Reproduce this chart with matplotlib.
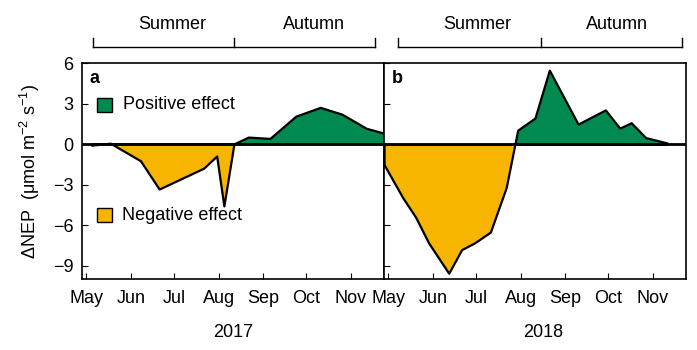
import numpy as np
import pandas as pd
import matplotlib
matplotlib.use("Agg")
import matplotlib.pyplot as plt
import matplotlib.dates as mdates
import matplotlib.transforms as mtransforms
from matplotlib.patches import Rectangle

plt.rcParams["font.family"] = ["Liberation Sans", "DejaVu Sans"]
plt.rcParams["mathtext.fontset"] = "custom"
plt.rcParams["mathtext.rm"] = "Liberation Sans"
plt.rcParams["mathtext.default"] = "regular"

# delta NEP
dates_2017 = ["2017-05-05", "2017-05-18", "2017-06-08", "2017-06-21", "2017-07-22",
              "2017-07-31", "2017-08-05", "2017-08-12", "2017-08-22", "2017-09-06",
              "2017-09-24", "2017-10-11", "2017-10-26", "2017-11-12", "2017-11-24"]
nep_2017 = [-0.1, 0.05, -1.25, -3.35, -1.8, -0.9, -4.6, 0.0, 0.5, 0.4,
            2.05, 2.7, 2.2, 1.15, 0.8]

dates_2018 = ["2018-04-28", "2018-05-11", "2018-05-20", "2018-05-29", "2018-06-12",
              "2018-06-21", "2018-06-30", "2018-07-11", "2018-07-22", "2018-07-30",
              "2018-08-11", "2018-08-21", "2018-09-10", "2018-09-29", "2018-10-09",
              "2018-10-17", "2018-10-27", "2018-11-11"]
nep_2018 = [-1.5, -3.95, -5.4, -7.3, -9.55, -7.8, -7.3, -6.5, -3.2, 1.05,
            1.95, 5.5, 1.5, 2.55, 1.2, 1.6, 0.5, 0.1]

years = [2017, 2018]
panel_labels = ["a", "b"]
# season brackets: start, summer/autumn split, end
brackets = {2017: ["2017-05-06", "2017-08-12", "2017-11-18"],
            2018: ["2018-05-08", "2018-08-15", "2018-11-21"]}
season_text = {2017: ["2017-06-30", "2017-10-06"],
               2018: ["2018-07-02", "2018-10-07"]}
seasons = ["Summer", "Autumn"]

green = "#008A50"
orange = "#F7B500"
fs = 13

fig = plt.figure(figsize=(6.97, 3.5), dpi=100)
ax_a = fig.add_axes([0.1176, 0.202, 0.4334, 0.617])
ax_b = fig.add_axes([0.551, 0.202, 0.433, 0.617])
axes = [ax_a, ax_b]
series = [(dates_2017, nep_2017), (dates_2018, nep_2018)]

for ax, year, lab, (d, v) in zip(axes, years, panel_labels, series):
    x = mdates.date2num(pd.to_datetime(d))
    y = np.array(v)
    ax.fill_between(x, y, 0, where=y >= 0, interpolate=True,
                    facecolor=green, edgecolor="black", lw=1.6, zorder=2)
    ax.fill_between(x, y, 0, where=y <= 0, interpolate=True,
                    facecolor=orange, edgecolor="black", lw=1.6, zorder=2)
    ax.axhline(0, color="black", lw=2, zorder=3)

    ax.set_xlim(mdates.date2num(pd.Timestamp(f"{year}-04-28")),
                mdates.date2num(pd.Timestamp(f"{year}-11-24")))
    ax.set_ylim(-10, 6)
    ax.set_yticks([-9, -6, -3, 0, 3, 6])
    ax.xaxis.set_major_locator(mdates.MonthLocator(bymonth=range(5, 12)))
    ax.xaxis.set_major_formatter(mdates.DateFormatter("%b"))
    ax.tick_params(direction="in", length=4, labelsize=fs)
    ax.tick_params(axis="x", pad=8)
    ax.tick_params(axis="y", pad=6)
    for s in ax.spines.values():
        s.set_linewidth(1.2)

    ax.text(0.025, 0.93, lab, transform=ax.transAxes, fontsize=fs,
            fontweight="bold", va="center", ha="left")
    ax.text(0.5 if year == 2017 else 0.527, -0.245, str(year),
            transform=ax.transAxes, fontsize=fs, ha="center", va="center")

    # season bracket above the panel
    tr = mtransforms.blended_transform_factory(ax.transData, ax.transAxes)
    bx = mdates.date2num(pd.to_datetime(brackets[year]))
    ax.plot([bx[0], bx[2]], [1.074, 1.074], color="black", lw=1,
            transform=tr, clip_on=False)
    for xb in bx:
        ax.plot([xb, xb], [1.074, 1.116], color="black", lw=1,
                transform=tr, clip_on=False)
    tx = mdates.date2num(pd.to_datetime(season_text[year]))
    for xt, name in zip(tx, seasons):
        ax.text(xt, 1.182, name, transform=tr, fontsize=fs,
                ha="center", va="center")

ax_b.tick_params(labelleft=False)

# legend drawn inside panel a
ax_a.add_patch(Rectangle((0.049, 0.776), 0.05, 0.062, transform=ax_a.transAxes,
                         facecolor=green, edgecolor="black", lw=1, zorder=4))
ax_a.add_patch(Rectangle((0.049, 0.267), 0.05, 0.062, transform=ax_a.transAxes,
                         facecolor=orange, edgecolor="black", lw=1, zorder=4))
ax_a.text(0.136, 0.81, "Positive effect", transform=ax_a.transAxes,
          fontsize=fs, va="center", ha="left")
ax_a.text(0.133, 0.295, "Negative effect", transform=ax_a.transAxes,
          fontsize=fs, va="center", ha="left")

fig.text(0.043, 0.51, "ΔNEP  (μmol m$^{-2}$ s$^{-1}$)", rotation=90,
         fontsize=fs, ha="center", va="center")

plt.savefig("out.png", dpi=100)
